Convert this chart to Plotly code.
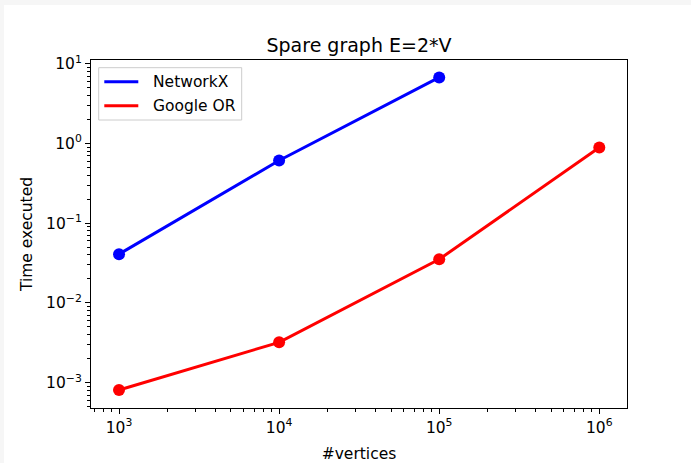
import plotly.graph_objects as go

vertices = [1e3, 1e4, 1e5, 1e6]
networkx_times = [0.0409, 0.612, 6.73]
google_or_times = [0.00081, 0.00321, 0.0353, 0.89]
x_tickvals = [1e3, 1e4, 1e5, 1e6]
x_ticktext = ["10<sup>3</sup>", "10<sup>4</sup>", "10<sup>5</sup>", "10<sup>6</sup>"]
y_tickvals = [1e-3, 1e-2, 1e-1, 1e0, 1e1]
y_ticktext = ["10<sup>−3</sup>", "10<sup>−2</sup>", "10<sup>−1</sup>", "10<sup>0</sup>", "10<sup>1</sup>"]

FONT = "DejaVu Sans"
W, H = 691, 463
L, R, T, B = 91, 64, 60, 55
pw, ph = W - L - R, H - T - B

def px(x):
    return (x - L) / pw

def py(y):
    return (H - B - y) / ph

fig = go.Figure()

series = [
    ("NetworkX", vertices[:len(networkx_times)], networkx_times, "#0000ff"),
    ("Google OR", vertices[:len(google_or_times)], google_or_times, "#ff0000"),
]
for name, xs, ys, col in series:
    fig.add_trace(go.Scatter(x=xs, y=ys, mode="lines", name=name, showlegend=False,
                             line=dict(color=col, width=3)))
for name, xs, ys, col in series:
    fig.add_trace(go.Scatter(x=xs, y=ys, mode="markers", showlegend=False,
                             marker=dict(color=col, size=12)))

axis_common = dict(
    type="log", showgrid=False, zeroline=False, automargin=False,
    showline=True, linecolor="black", linewidth=1.2, mirror=True,
    ticks="outside", ticklen=5, tickwidth=1.1, tickcolor="black",
    tickfont=dict(family=FONT, size=15.5, color="black"),
    minor=dict(ticks="outside", ticklen=3, tickwidth=0.9, tickcolor="black", dtick="D1", showgrid=False),
)

# legend drawn as box + line samples + text
shapes = [dict(type="rect", xref="paper", yref="paper", layer="below",
               x0=px(4), x1=px(W + 20), y0=py(H + 20), y1=py(5),
               fillcolor="white", line=dict(width=0))]
annotations = []
shapes.append(dict(type="rect", xref="paper", yref="paper", layer="above",
                   x0=px(98.7), x1=px(241.7), y0=py(120), y1=py(67.7),
                   fillcolor="white", line=dict(color="#cccccc", width=1)))
for i, (name, xs, ys, col) in enumerate(series):
    yy = 81.7 + 24 * i
    shapes.append(dict(type="line", xref="paper", yref="paper", layer="above",
                       x0=px(104.3), x1=px(138.3), y0=py(yy), y1=py(yy),
                       line=dict(color=col, width=3)))
    annotations.append(dict(text=name, xref="paper", yref="paper", x=px(150.5), y=py(yy),
                            xanchor="left", yanchor="middle", showarrow=False,
                            font=dict(family=FONT, size=15.5, color="black")))

fig.update_layout(
    width=W, height=H,
    margin=dict(l=L, r=R, t=T, b=B),
    paper_bgcolor="#f6f6f6",
    plot_bgcolor="rgba(0,0,0,0)",
    font=dict(family=FONT, size=15.5, color="black"),
    title=dict(text="Spare graph E=2*V", x=(L + pw / 2) / W, xanchor="center",
               y=1 - 45 / H, yanchor="middle", yref="container",
               font=dict(family=FONT, size=19, color="black")),
    xaxis=dict(axis_common, range=[2.825, 6.173], tickvals=x_tickvals, ticktext=x_ticktext,
               title=dict(text="#vertices", standoff=13, font=dict(family=FONT, size=15.5))),
    yaxis=dict(axis_common, range=[-3.317, 1.046], tickvals=y_tickvals, ticktext=y_ticktext,
               title=dict(text="Time executed", standoff=9, font=dict(family=FONT, size=15.5))),
    showlegend=False,
    shapes=shapes,
    annotations=annotations,
)

fig.write_html("out.html", config={"displayModeBar": False},
               post_script="document.body.style.margin='0px';")
